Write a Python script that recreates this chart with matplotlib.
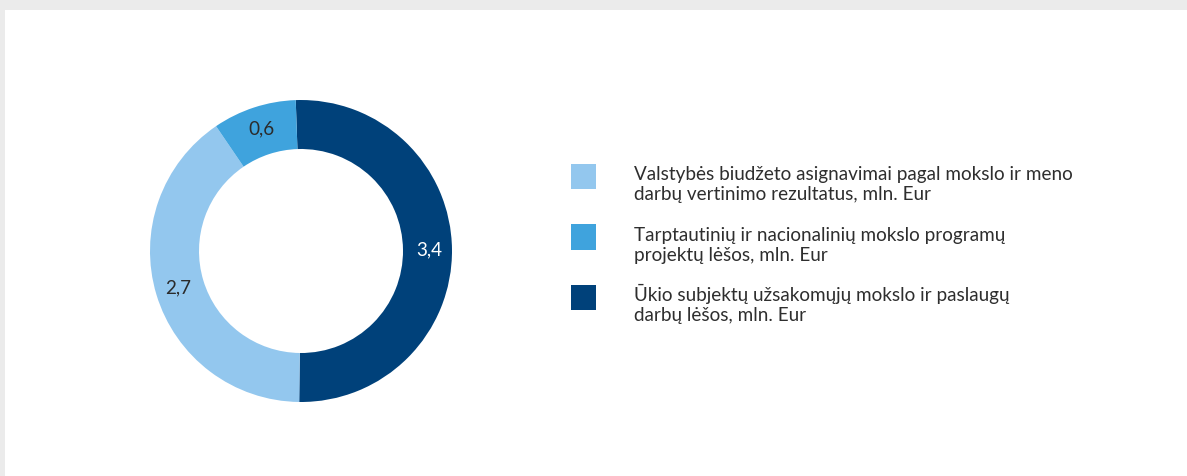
import matplotlib
matplotlib.use("Agg")
import matplotlib.pyplot as plt
from matplotlib.patches import Rectangle

# Data
values = [3.4, 2.7, 0.6]
colors = ["#00417a", "#93c7ee", "#3fa3dd"]
label_colors = ["white", "#2b2b2b", "#2b2b2b"]
legend_order = [1, 2, 0]
legend_labels = [
    "Ūkio subjektų užsakomųjų mokslo ir paslaugų\ndarbų lėšos, mln. Eur",
    "Valstybės biudžeto asignavimai pagal mokslo ir meno\ndarbų vertinimo rezultatus, mln. Eur",
    "Tarptautinių ir nacionalinių mokslo programų\nprojektų lėšos, mln. Eur",
]

W, H = 1187, 476
fig = plt.figure(figsize=(W / 100, H / 100), dpi=100)
fig.patch.set_facecolor("white")

FONT = ["Lato", "DejaVu Sans"]
TXT = "#2e2e2e"

# Grey frame strips
fig.patches.append(Rectangle((0, 1 - 10 / H), 1, 10 / H, transform=fig.transFigure,
                             facecolor="#ebebeb", edgecolor="none", zorder=0))
fig.patches.append(Rectangle((0, 0), 5 / W, 1, transform=fig.transFigure,
                             facecolor="#ebebeb", edgecolor="none", zorder=0))

# Donut axes
cx, cy, R = 301, 251, 151
ax = fig.add_axes([(cx - R) / W, (H - cy - R) / H, 2 * R / W, 2 * R / H])
total = sum(values)
wedges, texts, autotexts = ax.pie(
    values, colors=colors, startangle=92, counterclock=False, radius=1,
    wedgeprops=dict(width=49 / 151, edgecolor="none", linewidth=0),
    autopct=lambda p: f"{p * total / 100:.1f}".replace(".", ","),
    pctdistance=0.85,
    textprops=dict(fontsize=13.6, family=FONT),
)
for t, c in zip(autotexts, label_colors):
    t.set_color(c)
ax.set_xlim(-1, 1)
ax.set_ylim(-1, 1)
ax.set_aspect("equal")
ax.axis("off")

# Legend (manual)
sq = 25
x_sq = 571
x_txt = 634
y0 = 164
step = 60.5
for i, idx in enumerate(legend_order):
    top = y0 + i * step
    fig.patches.append(Rectangle((x_sq / W, (H - top - sq) / H), sq / W, sq / H,
                                 transform=fig.transFigure, facecolor=colors[idx],
                                 edgecolor="none"))
    fig.text(x_txt / W, (H - (top + 36)) / H, legend_labels[idx], fontsize=13.6,
             family=FONT, color=TXT, va="baseline", ha="left", linespacing=1.18)

fig.savefig("out.png", dpi=100, facecolor="white")
